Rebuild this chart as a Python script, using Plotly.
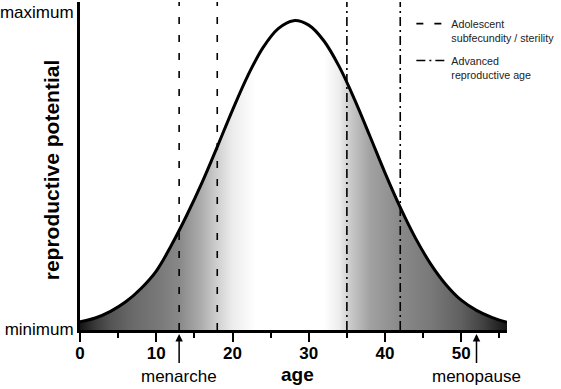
import plotly.graph_objects as go

# ---- data ----
ages = [0, 2, 4, 6, 8, 10, 12, 14, 16, 18, 20, 22, 24, 26, 28,
        30, 32, 34, 36, 38, 40, 42, 44, 46, 48, 50, 52, 54, 56]
potential = [0.026, 0.038, 0.059, 0.089, 0.131, 0.186, 0.268, 0.362, 0.465, 0.578,
             0.694, 0.802, 0.891, 0.951, 0.976, 0.962, 0.912, 0.831, 0.728, 0.613,
             0.496, 0.387, 0.290, 0.208, 0.143, 0.094, 0.062, 0.040, 0.024]

adolescent_ages = [13, 18]          # dashed lines
advanced_ages = [35, 42]            # dash-dot lines
menarche_age = 13
menopause_age = 52

y_ticks = [0, 1]
y_tick_labels = ["minimum", "maximum"]
x_ticks = [0, 10, 20, 30, 40, 50]

X_MAX = 56
Y_TOP = 1.035

# gradient (position along age axis, grey level)
grad_stops = [0, 2, 4, 7, 10, 13, 16, 18, 20, 23, 32, 34, 35.5, 38, 42, 46, 50, 53, 56]
grad_colors = ["#141414", "#3a3a3a", "#545454", "#6a6a6a", "#777777", "#888888",
               "#aeaeae", "#cfcfcf", "#ececec", "#ffffff", "#ffffff", "#ededed",
               "#c9c9c9", "#a2a2a2", "#898989", "#797979", "#606060", "#404040",
               "#141414"]

FONT = "Liberation Sans, Arial, sans-serif"

fig = go.Figure()

fig.add_trace(go.Scatter(
    x=ages, y=potential, mode="lines",
    line=dict(color="black", width=3, shape="spline"),
    fill="tozeroy",
    fillgradient=dict(type="horizontal", start=0, stop=X_MAX,
                      colorscale=[[s / X_MAX, c] for s, c in zip(grad_stops, grad_colors)]),
    showlegend=False, hoverinfo="skip"))


def vlines(xs):
    xx, yy = [], []
    for v in xs:
        xx += [v, v, None]
        yy += [0, Y_TOP, None]
    return xx, yy


xa, ya = vlines(adolescent_ages)
fig.add_trace(go.Scatter(x=xa, y=ya, mode="lines", legendgroup="a",
                         line=dict(color="black", width=1.6, dash="7px,11px"),
                         name="Adolescent<br>subfecundity / sterility"))
xb, yb = vlines(advanced_ages)
fig.add_trace(go.Scatter(x=xb, y=yb, mode="lines", legendgroup="b",
                         line=dict(color="black", width=1.6, dash="9px,4px,2px,4px"),
                         name="Advanced<br>reproductive age"))

# arrows
for age, label in [(menarche_age, "menarche"), (menopause_age, "menopause")]:
    fig.add_annotation(x=age, y=-0.012, xref="x", yref="paper", text=label,
                       showarrow=True, arrowhead=2, arrowsize=1, arrowwidth=1.5,
                       arrowcolor="black", ax=0, ay=43, startstandoff=3,
                       font=dict(family=FONT, size=17, color="black"))

fig.add_annotation(x=28.5, y=-0.137, xref="x", yref="paper", text="age", showarrow=False,
                   xanchor="center", yanchor="middle",
                   font=dict(family=FONT, size=19, color="black", weight="bold"))
fig.add_annotation(x=-0.068, y=0.49, xref="paper", yref="paper",
                   xanchor="center", yanchor="middle",
                   text="reproductive potential", textangle=-90, showarrow=False,
                   font=dict(family=FONT, size=21, color="black", weight="bold"))

fig.update_xaxes(range=[0, X_MAX], showgrid=False, zeroline=False, automargin=False,
                 showline=True, linecolor="black", linewidth=3,
                 tickvals=x_ticks, ticks="outside", ticklen=9, tickwidth=2, tickcolor="black",
                 ticklabelstandoff=-3,
                 tickfont=dict(family=FONT, size=17, color="black", weight="bold"),
                 minor=dict(dtick=5, tick0=5, ticks="outside", ticklen=5, tickwidth=2,
                            tickcolor="black", showgrid=False))
fig.update_yaxes(range=[0, Y_TOP], showgrid=False, zeroline=False, automargin=False,
                 showline=True, linecolor="black", linewidth=3,
                 tickvals=y_ticks, ticktext=y_tick_labels, ticks="", ticklabelshift=-1,
                 tickfont=dict(family=FONT, size=17, color="black"))

fig.update_layout(
    width=561, height=389,
    margin=dict(l=80, r=54, t=2, b=59),
    plot_bgcolor="white", paper_bgcolor="white",
    legend=dict(x=0.776, y=0.975, xanchor="left", yanchor="top",
                bgcolor="rgba(0,0,0,0)", itemwidth=30, valign="top",
                tracegroupgap=6,
                font=dict(family=FONT, size=10.7, color="#222222")),
)

fig.write_html("out.html", config={"displayModeBar": False},
               post_script="document.body.style.margin='0';document.body.style.overflow='hidden';")
